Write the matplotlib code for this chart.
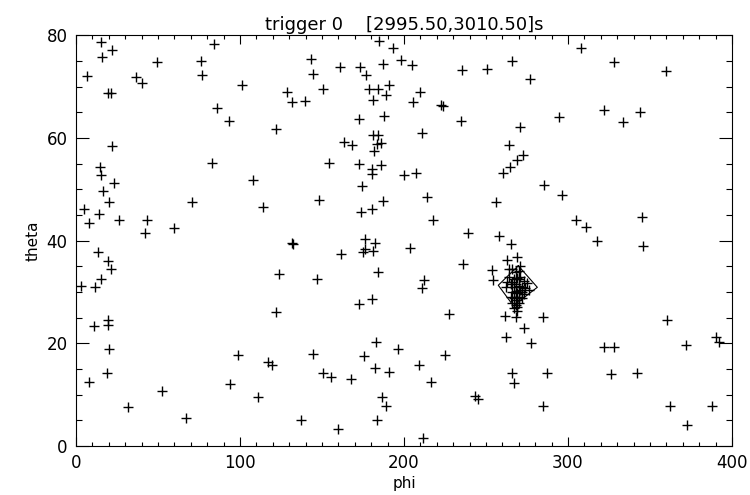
import numpy as np
import matplotlib
matplotlib.use('Agg')
import matplotlib.pyplot as plt
from matplotlib.ticker import MultipleLocator

# event positions (phi, theta)
phi = [15.2, 22.1, 15.7, 49.2, 84.3, 76.0, 6.5, 36.6, 40.1, 77.0,
       101.0, 19.7, 21.2, 86.2, 93.3, 21.8, 14.6, 15.1, 23.4, 82.9,
       107.7, 16.3, 20.3, 70.9, 4.9, 13.8, 26.2, 43.5, 8.1,
       184.8, 193.5, 143.1, 160.7, 172.9, 187.2, 198.2, 205.1, 235.2, 250.4,
       144.7, 176.7, 128.5, 131.9, 139.6, 150.4, 178.8, 184.3, 191.0, 189.0,
       180.9, 209.8, 205.7, 222.4, 224.0, 234.6, 172.7, 188.1, 122.0, 210.9,
       181.3, 184.3, 185.8, 183.4, 181.7, 163.4, 168.5, 154.1, 172.7, 186.0,
       180.7, 180.3, 200.0, 207.6, 174.2, 148.4, 114.2, 187.4, 213.8, 173.5,
       180.3, 256.4, 217.7, 266.0, 276.8, 270.7, 264.3, 272.4, 268.7, 264.6,
       260.2, 285.4,
       307.9, 328.0, 359.8, 321.8, 343.9, 333.4, 294.7, 296.2, 304.9, 311.0, 344.9,
       42.1, 59.8, 131.9, 132.5, 13.2, 19.3, 21.3, 15.2, 2.9, 11.6,
       123.8, 122.0, 11.2, 19.7, 19.7, 19.9, 98.6, 117.3, 119.3, 18.7,
       8.1, 93.9, 52.6, 110.8, 31.5, 67.1, 137.0,
       238.8, 257.9, 265.2, 262.6, 268.7, 176.2, 182.3, 176.2, 180.9, 175.2,
       161.6, 203.7, 236.2, 146.8, 184.3, 212.2, 210.8, 172.7, 180.7, 253.8,
       254.5, 227.4, 261.6, 268.3, 284.6, 273.2, 262.2, 277.4, 182.9, 196.5,
       144.3, 175.6, 225.0, 209.3, 182.3, 191.0, 150.4, 155.3, 167.7, 216.5,
       265.9, 267.3, 287.0, 186.4, 189.0, 243.3, 245.3, 284.9, 183.7, 159.6, 211.4,
       317.7, 345.8, 360.4, 390.2, 372.0, 321.8, 327.8, 392.2, 326.2, 342.1,
       362.0, 387.8, 372.5]
theta = [78.6, 77.2, 75.7, 74.8, 78.2, 75.0, 72.0, 71.8, 70.6, 72.2,
         70.2, 68.7, 68.8, 65.9, 63.3, 58.4, 54.4, 52.7, 51.3, 55.1,
         51.7, 49.7, 47.6, 47.6, 46.1, 45.2, 44.1, 44.1, 43.5,
         78.9, 77.4, 75.4, 73.8, 73.8, 74.3, 75.1, 74.2, 73.2, 73.5,
         72.5, 72.2, 69.0, 67.0, 67.2, 69.5, 69.5, 69.5, 70.2, 68.3,
         67.4, 68.9, 67.0, 66.4, 66.2, 63.3, 63.6, 64.3, 61.8, 61.0,
         60.5, 60.5, 59.0, 58.8, 57.5, 59.2, 58.6, 55.1, 54.9, 54.7,
         53.9, 52.9, 52.7, 53.1, 50.6, 47.9, 46.6, 47.7, 48.5, 45.6,
         46.2, 47.5, 44.0, 74.9, 71.5, 62.1, 58.7, 56.6, 55.7, 54.4,
         53.2, 50.9,
         77.4, 74.8, 73.0, 65.5, 65.1, 63.0, 64.0, 48.8, 44.0, 42.7, 44.5,
         41.4, 42.4, 39.6, 39.3, 37.7, 36.0, 34.5, 32.6, 31.2, 31.0,
         33.4, 26.0, 23.4, 24.5, 23.5, 18.9, 17.8, 16.3, 15.8, 14.2,
         12.5, 12.1, 10.7, 9.6, 7.5, 5.4, 5.1,
         41.4, 40.9, 39.3, 36.2, 36.8, 40.4, 39.6, 38.3, 38.0, 37.8,
         37.4, 38.6, 35.4, 32.5, 33.9, 32.4, 30.7, 27.6, 28.6, 34.3,
         32.4, 25.7, 25.3, 25.2, 25.1, 23.0, 21.3, 20.1, 20.2, 18.9,
         17.9, 17.5, 17.7, 15.8, 15.1, 14.4, 14.2, 13.4, 13.0, 12.5,
         14.3, 12.3, 14.2, 9.6, 7.8, 9.7, 9.1, 7.8, 5.1, 3.3, 1.6,
         39.9, 38.9, 24.5, 21.2, 19.6, 19.3, 19.3, 20.2, 14.0, 14.2,
         7.7, 7.7, 4.0]

# dense group of events around the source
cluster_phi = [266, 268, 270, 264, 267, 269, 271, 273, 265, 267,
               268, 270, 272, 274, 266, 268, 269, 271, 273, 265,
               267, 269, 270, 272, 266, 268, 270, 267, 269, 275,
               276, 263, 262, 271, 264, 268, 266, 270, 272, 269]
cluster_theta = [34.5, 33.8, 34.0, 33.0, 32.5, 32.8, 33.0, 32.2, 31.5, 31.0,
                 31.5, 31.2, 31.0, 30.8, 30.0, 30.2, 29.8, 30.3, 29.5, 29.0,
                 28.8, 28.5, 29.0, 28.8, 27.8, 27.5, 27.8, 26.8, 27.0, 31.8,
                 30.3, 32.0, 31.0, 35.0, 34.5, 29.0, 32.0, 32.5, 30.0, 26.2]

# error box outline
box_phi = [269.7, 281.3, 266.7, 257.5, 269.7]
box_theta = [35.1, 30.9, 27.3, 31.3, 35.1]

plt.rcParams['font.family'] = ['DejaVu Sans']

fig = plt.figure(figsize=(7.5, 4.95), dpi=100)
ax = fig.add_axes([0.1013, 0.099, 0.8747, 0.830])

ax.plot(phi, theta, linestyle='none', marker='+', color='black', ms=7.5, mew=1.0)
ax.plot(cluster_phi, cluster_theta, linestyle='none', marker='+', color='black', ms=7.5, mew=1.0)
ax.plot(box_phi, box_theta, color='black', lw=0.8)

ax.set_xlim(0, 400)
ax.set_ylim(0, 80)
ax.xaxis.set_major_locator(MultipleLocator(100))
ax.xaxis.set_minor_locator(MultipleLocator(10))
ax.yaxis.set_major_locator(MultipleLocator(20))
ax.yaxis.set_minor_locator(MultipleLocator(5))
ax.tick_params(axis='both', which='both', direction='in', top=True, right=True,
               width=0.8, labelsize=12, color='black')
ax.tick_params(axis='x', which='major', length=6.5, pad=6)
ax.tick_params(axis='x', which='minor', length=3.2)
ax.tick_params(axis='y', which='major', length=9.4, pad=6)
ax.tick_params(axis='y', which='minor', length=4.3)
for sp in ax.spines.values():
    sp.set_linewidth(0.8)

ax.set_xlabel('phi', fontsize=11, labelpad=3)
ax.set_ylabel('theta', fontsize=11, labelpad=4)
ax.set_title('trigger 0    [2995.50,3010.50]s', fontsize=13, pad=4)

fig.savefig('out.png', dpi=100)
